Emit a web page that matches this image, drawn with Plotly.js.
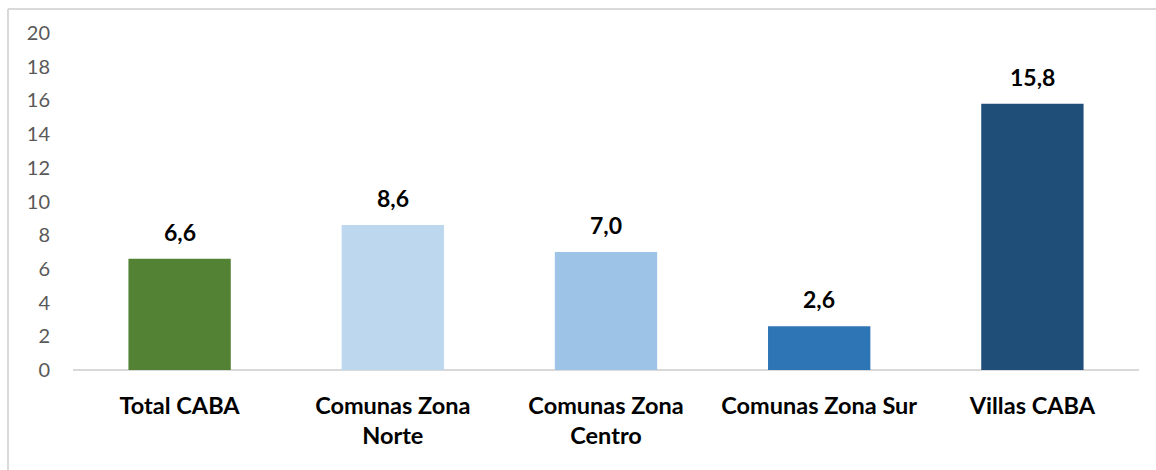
<!DOCTYPE html>
<html>
<head>
<meta charset="utf-8">
<script src="https://cdn.plot.ly/plotly-3.0.1.min.js"></script>
<style>html,body{margin:0;padding:0;background:#fff;}#chart{width:1156px;height:470px;}</style>
</head>
<body>
<div id="chart"></div>
<script>
const categories = ["Total CABA", "Comunas Zona<br>Norte", "Comunas Zona<br>Centro", "Comunas Zona Sur", "Villas CABA"];
const values = [6.6, 8.6, 7.0, 2.6, 15.8];
const labels = ["6,6", "8,6", "7,0", "2,6", "15,8"];
const colors = ["#548235", "#BDD7EE", "#9DC3E6", "#2E75B6", "#1F4E79"];
const yTicks = [0, 2, 4, 6, 8, 10, 12, 14, 16, 18, 20];

const W = 1156, H = 470;
const m = {l: 73, r: 17, t: 33, b: 100};
const pw = W - m.l - m.r, ph = H - m.t - m.b;
const px = x => (x - m.l) / pw;
const py = y => (H - m.b - y) / ph;

const trace = {
  type: "bar",
  x: categories,
  y: values,
  marker: {color: colors},
  width: 0.48,
  hoverinfo: "skip"
};

const annotations = categories.map((c, i) => ({
  x: c, y: values[i], xref: "x", yref: "y",
  text: "<b>" + labels[i] + "</b>",
  showarrow: false, yanchor: "bottom", yshift: 11,
  font: {family: "Lato, 'Open Sans', sans-serif", size: 23, color: "#000"}
}));

const layout = {
  width: W, height: H,
  margin: m,
  paper_bgcolor: "#fff", plot_bgcolor: "#fff",
  showlegend: false,
  bargap: 0.52,
  xaxis: {
    showgrid: false, zeroline: false, showline: false, ticks: "",
    tickfont: {family: "Lato, 'Open Sans', sans-serif", size: 23.5, color: "#000", weight: "bold"},
    ticklabelstandoff: 19
  },
  yaxis: {
    range: [0, 20], tickvals: yTicks, showgrid: false,
    zeroline: true, zerolinecolor: "#D9D9D9", zerolinewidth: 2,
    showline: false, ticks: "",
    tickfont: {family: "Lato, 'Open Sans', sans-serif", size: 20, color: "#595959"},
    ticklabelstandoff: 22
  },
  annotations: annotations,
  shapes: [
    {type: "line", xref: "paper", yref: "paper", x0: px(8), x1: px(8), y0: py(9), y1: py(480), line: {color: "#D9D9D9", width: 2}},
    {type: "line", xref: "paper", yref: "paper", x0: px(8), x1: px(1170), y0: py(9), y1: py(9), line: {color: "#D9D9D9", width: 2}}
  ]
};

Plotly.newPlot("chart", [trace], layout, {staticPlot: true, displayModeBar: false});
</script>
</body>
</html>
